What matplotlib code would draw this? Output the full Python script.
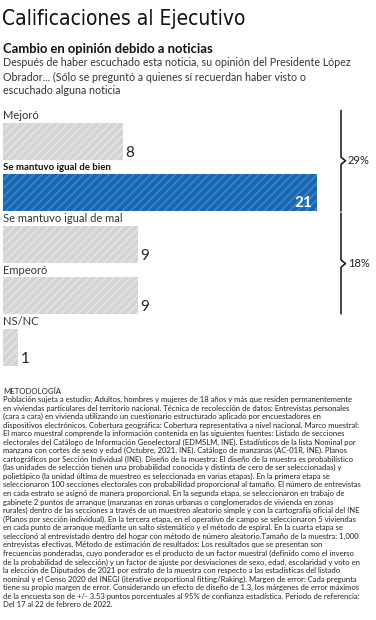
import matplotlib
matplotlib.use("Agg")
import matplotlib.pyplot as plt
from matplotlib.lines import Line2D
import matplotlib.transforms as mtransforms

# datos
categorias = ["Mejoró", "Se mantuvo igual de bien", "Se mantuvo igual de mal", "Empeoró", "NS/NC"]
valores = [8, 21, 9, 9, 1]
destacada = 1  # barra en azul
grupos = [(0, 1, "29%"), (2, 3, "18%")]

titulo = "Calificaciones al Ejecutivo"
subtitulo = "Cambio en opinión debido a noticias"
descripcion = [
    "Después de haber escuchado esta noticia, su opinión del Presidente López",
    "Obrador... (Sólo se preguntó a quienes sí recuerdan haber visto o",
    "escuchado alguna noticia",
]
metodologia = [
    "Población sujeta a estudio: Adultos, hombres y mujeres de 18 años y más que residen permanentemente",
    "en viviendas particulares del territorio nacional. Técnica de recolección de datos: Entrevistas personales",
    "(cara a cara) en vivienda utilizando un cuestionario estructurado aplicado por encuestadores en",
    "dispositivos electrónicos. Cobertura geográfica: Cobertura representativa a nivel nacional. Marco muestral:",
    "El marco muestral comprende la información contenida en las siguientes fuentes: Listado de secciones",
    "electorales del Catálogo de Información Geoelectoral (EDMSLM, INE). Estadísticos de la lista Nominal por",
    "manzana con cortes de sexo y edad (Octubre, 2021, INE). Catálogo de manzanas (AC-01R, INE). Planos",
    "cartográficos por Sección Individual (INE). Diseño de la muestra: El diseño de la muestra es probabilístico",
    "(las unidades de selección tienen una probabilidad conocida y distinta de cero de ser seleccionadas) y",
    "polietápico (la unidad última de muestreo es seleccionada en varias etapas). En la primera etapa se",
    "seleccionaron 100 secciones electorales con probabilidad proporcional al tamaño. El número de entrevistas",
    "en cada estrato se asignó de manera proporcional. En la segunda etapa, se seleccionaron en trabajo de",
    "gabinete 2 puntos de arranque (manzanas en zonas urbanas o conglomerados de vivienda en zonas",
    "rurales) dentro de las secciones a través de un muestreo aleatorio simple y con la cartografía oficial del INE",
    "(Planos por sección individual). En la tercera etapa, en el operativo de campo se seleccionaron 5 viviendas",
    "en cada punto de arranque mediante un salto sistemático y el método de espiral. En la cuarta etapa se",
    "seleccionó al entrevistado dentro del hogar con método de número aleatorio.Tamaño de la muestra: 1,000",
    "entrevistas efectivas. Método de estimación de resultados: Los resultados que se presentan son",
    "frecuencias ponderadas, cuyo ponderador es el producto de un factor muestral (definido como el inverso",
    "de la probabilidad de selección) y un factor de ajuste por desviaciones de sexo, edad, escolaridad y voto en",
    "la elección de Diputados de 2021 por estrato de la muestra con respecto a las estadísticas del listado",
    "nominal y el Censo 2020 del INEGI (iterative proportional fitting/Raking). Margen de error: Cada pregunta",
    "tiene su propio margen de error. Considerando un efecto de diseño de 1.3, los márgenes de error máximos",
    "de la encuesta son de +/- 3.53 puntos porcentuales al 95% de confianza estadística. Periodo de referencia:",
    "Del 17 al 22 de febrero de 2022.",
]

W, H = 376, 620
plt.rcParams['font.family'] = ['Lato', 'DejaVu Sans']
plt.rcParams['hatch.linewidth'] = 1.2

fig = plt.figure(figsize=(W / 100, H / 100), dpi=100)
fig.patch.set_facecolor("white")


def fy(y):
    return 1 - y / H


def fx(x):
    return x / W


# encabezado
fig.text(fx(2), fy(19), titulo, fontsize=15, color="#111111", va="center", ha="left",
         family="DejaVu Sans", stretch="condensed")
fig.text(fx(3), fy(49), subtitulo, fontsize=9.4, fontweight="bold", color="#111111", va="center")
for i, linea in enumerate(descripcion):
    fig.text(fx(3), fy(63 + i * 14), linea, fontsize=7.7, color="#333333", va="center")

# barras
fila = 51.4
y0 = 115.8
ax = fig.add_axes([fx(3), fy(y0 + fila * len(valores)), 314 / W, fila * len(valores) / H])
ax.set_xlim(0, 21)
ax.set_ylim(len(valores) - 0.5, -0.5)
ax.axis("off")

for i, (cat, v) in enumerate(zip(categorias, valores)):
    if i == destacada:
        color, hatch_col = "#1767b1", "#3e86c8"
    else:
        color, hatch_col = "#d4d4d4", "#e4e4e4"
    ax.barh(i, v, height=0.72, color=color, edgecolor=hatch_col, linewidth=0, hatch="////")
    es_dest = i == destacada
    ax.text(0, i - 0.5, cat, fontsize=6.95 if es_dest else 8, color="#111111" if es_dest else "#333333",
            va="center", ha="left", fontweight="bold" if es_dest else "normal")
    if es_dest:
        ax.text(v - 0.35, i + 0.33, str(v), fontsize=11, color="white", fontweight="bold",
                ha="right", va="bottom")
    else:
        ax.text(v + 0.2, i + 0.36, str(v), fontsize=11, color="#222222", ha="left", va="bottom")

# llaves de agrupación
trans = mtransforms.blended_transform_factory(fig.transFigure, ax.transData)
xl = fx(341)
xp = fx(345.5)
for a, b, etiqueta in grupos:
    top = a - 0.6
    bot = b + 0.35
    mid = (top + bot) / 2
    ax.add_artist(Line2D([xl, xl, xp, xl, xl], [top, mid - 0.07, mid, mid + 0.07, bot],
                         transform=trans, color="#111111", lw=1.1, clip_on=False))
    ax.text(fx(348), mid, etiqueta, transform=trans, fontsize=8, color="#222222",
            va="center", ha="left", clip_on=False)

# metodología
fig.text(fx(3), fy(391), "METODOLOGÍA", fontsize=5.6, color="#222222", va="center")
for i, linea in enumerate(metodologia):
    fig.text(fx(3), fy(399.5 + i * 8.55), linea, fontsize=5.5, color="#222222", va="center")

fig.savefig("out.png", dpi=100, facecolor="white")
